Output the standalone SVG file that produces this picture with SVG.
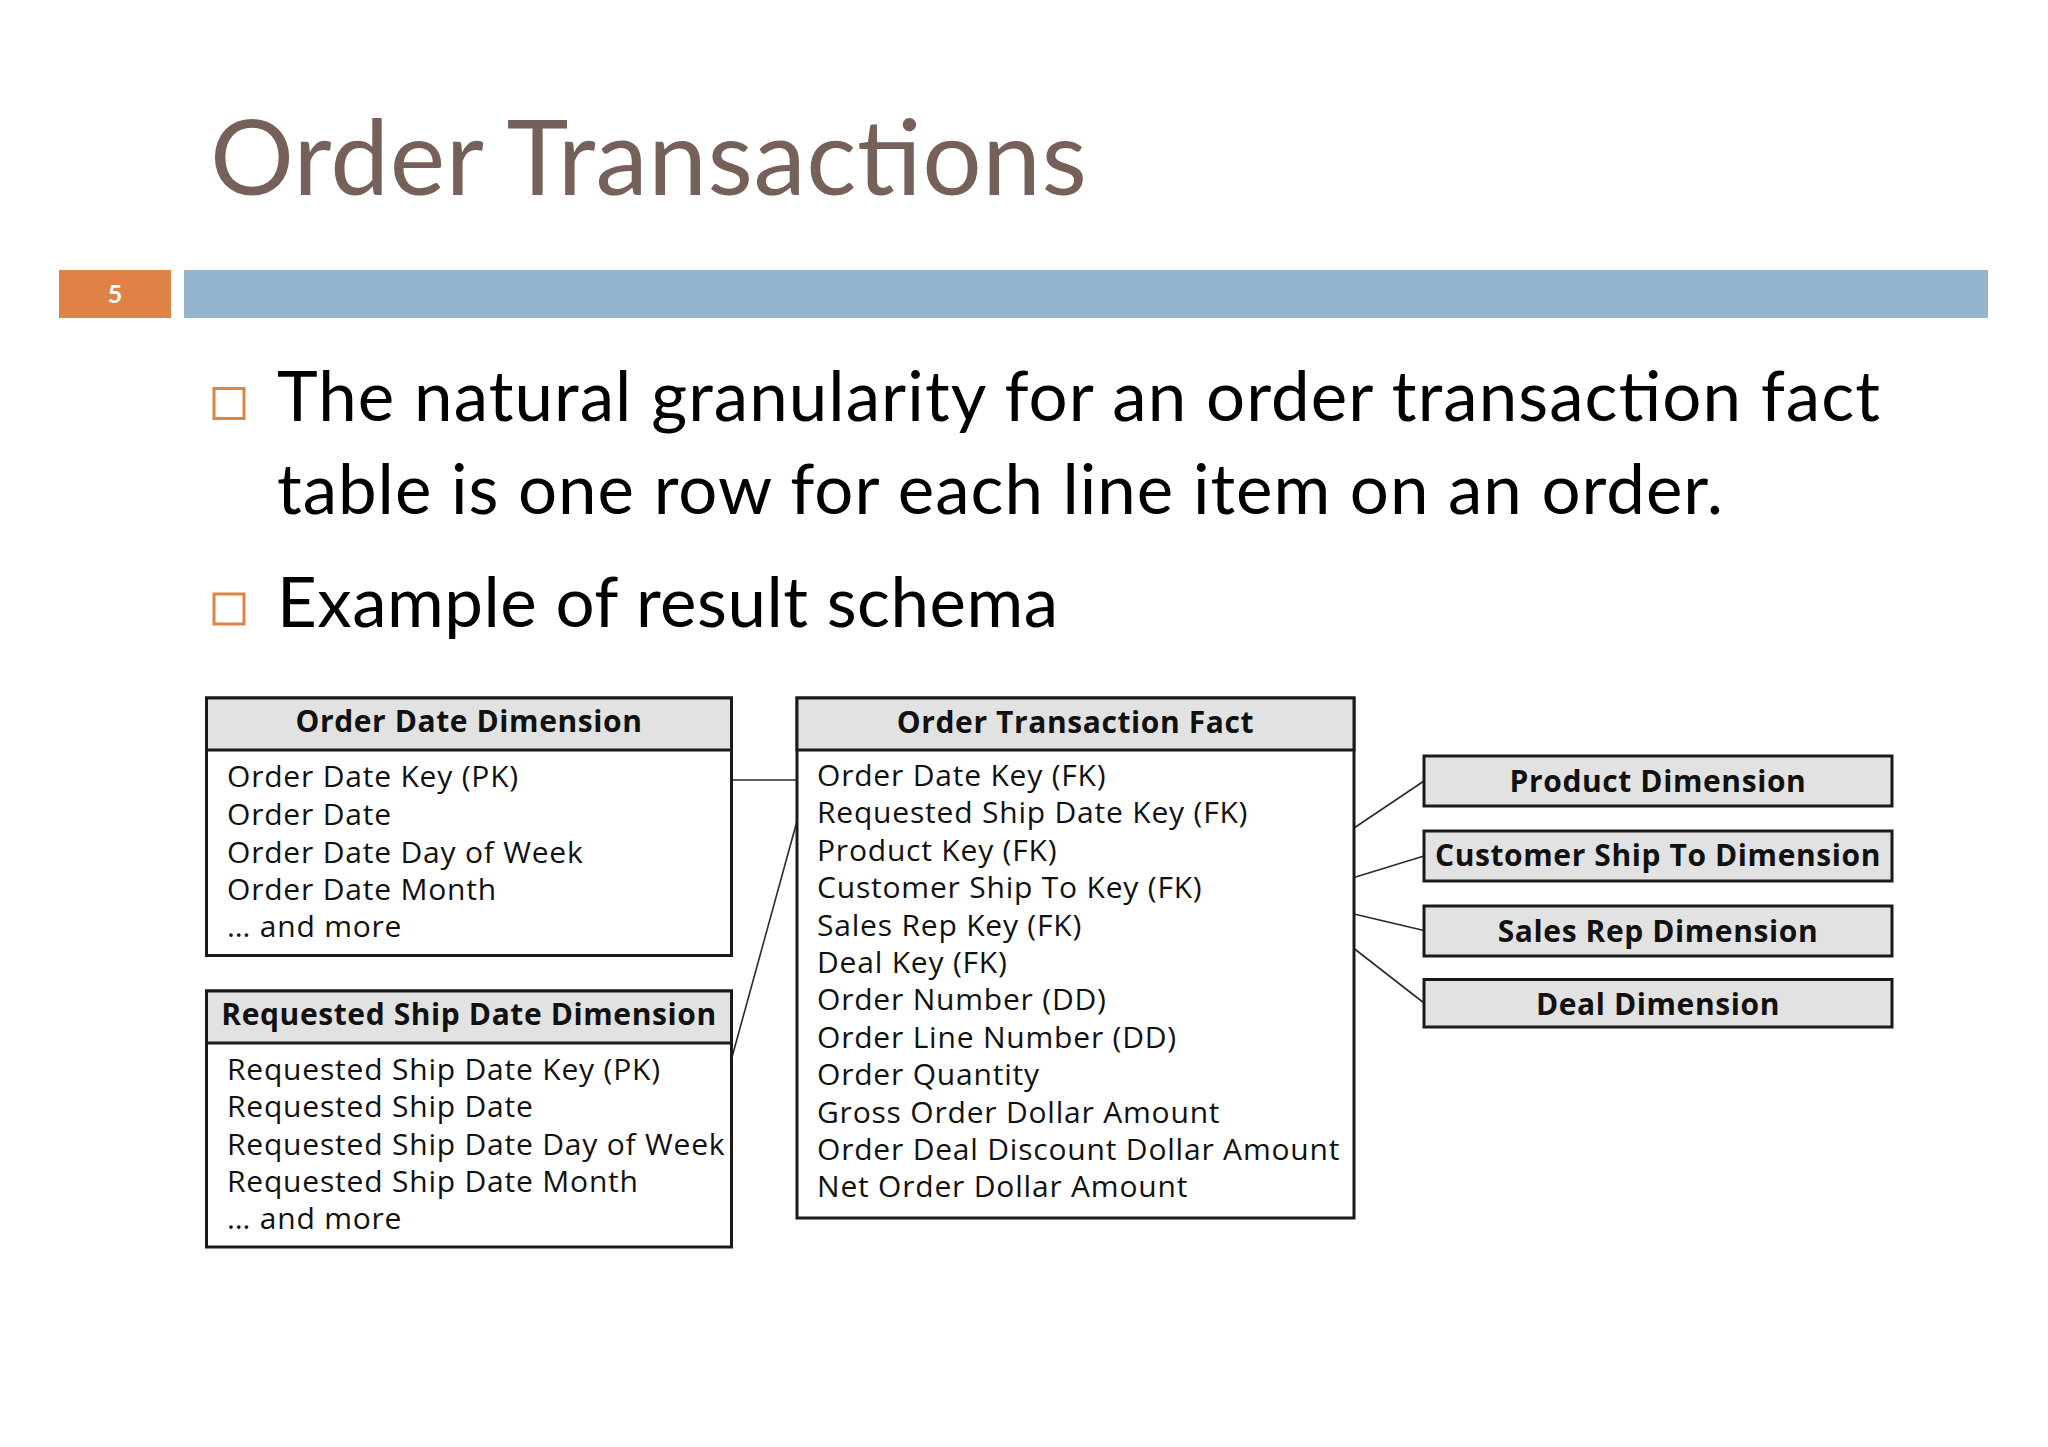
<svg xmlns="http://www.w3.org/2000/svg" width="2048" height="1447" viewBox="0 0 2048 1447">
<style>
.title{font-family:Lato,"Open Sans",sans-serif;font-size:105px;fill:#76605A}
.bul{font-family:Lato,"Open Sans",sans-serif;font-size:69px;fill:#000}
.bsq{fill:none;stroke:#DE8345;stroke-width:3}
.box{fill:#fff;stroke:#1a1a1a;stroke-width:3}
.hdr{fill:#E2E2E2;stroke:#1a1a1a;stroke-width:3}
.ht{font-family:"Open Sans",sans-serif;font-weight:bold;font-size:30px;letter-spacing:0.6px;fill:#111;text-anchor:middle}
.rt{font-family:"Open Sans",sans-serif;font-size:30px;letter-spacing:0.8px;fill:#111}
.con line{stroke:#2a2a2a;stroke-width:1.6}
</style>
<rect width="2048" height="1447" fill="#fff"/>
<g id="header">
<text class="title" x="210" y="195" textLength="877" lengthAdjust="spacing">Order Transactions</text>
<rect x="59" y="270" width="112" height="48" fill="#DE8345"/>
<text x="115" y="303" font-family="Lato,sans-serif" font-weight="bold" font-size="25" fill="#fff" text-anchor="middle">5</text>
<rect x="184" y="270" width="1804" height="48" fill="#94B4CF"/>
</g>
<g id="bullets">
<rect class="bsq" x="214" y="388.5" width="30" height="30"/>
<text class="bul" x="277" y="421" textLength="1603" lengthAdjust="spacing">The natural granularity for an order transaction fact</text>
<text class="bul" x="277" y="514" textLength="1446" lengthAdjust="spacing">table is one row for each line item on an order.</text>
<rect class="bsq" x="214" y="594" width="30" height="30"/>
<text class="bul" x="277" y="627" textLength="781" lengthAdjust="spacing">Example of result schema</text>
</g>
<g id="connectors" class="con">
<line x1="731.5" y1="780" x2="797" y2="780"/>
<line x1="731.5" y1="1059" x2="797" y2="821"/>
<line x1="1354" y1="828" x2="1424" y2="781"/>
<line x1="1354" y1="877.5" x2="1424" y2="856"/>
<line x1="1354" y1="914" x2="1424" y2="930.5"/>
<line x1="1354" y1="948.5" x2="1424" y2="1003"/>
</g>
<g id="order-date-dim">
<rect class="box" x="206.5" y="698" width="525" height="257.5"/>
<rect class="hdr" x="206.5" y="698" width="525" height="52"/>
<text class="ht" x="469" y="732">Order Date Dimension</text>
<text class="rt" x="227" y="787">Order Date Key (PK)</text>
<text class="rt" x="227" y="825">Order Date</text>
<text class="rt" x="227" y="863">Order Date Day of Week</text>
<text class="rt" x="227" y="900">Order Date Month</text>
<text class="rt" x="227" y="937">… and more</text>
</g>
<g id="req-ship-date-dim">
<rect class="box" x="206.5" y="991" width="525" height="256"/>
<rect class="hdr" x="206.5" y="991" width="525" height="52"/>
<text class="ht" x="469" y="1025">Requested Ship Date Dimension</text>
<text class="rt" x="227" y="1080">Requested Ship Date Key (PK)</text>
<text class="rt" x="227" y="1117">Requested Ship Date</text>
<text class="rt" x="227" y="1155">Requested Ship Date Day of Week</text>
<text class="rt" x="227" y="1192">Requested Ship Date Month</text>
<text class="rt" x="227" y="1229">… and more</text>
</g>
<g id="order-transaction-fact">
<rect class="box" x="797" y="698" width="557" height="520"/>
<rect class="hdr" x="797" y="698" width="557" height="52"/>
<text class="ht" x="1075.5" y="733">Order Transaction Fact</text>
<text class="rt" x="817" y="786">Order Date Key (FK)</text>
<text class="rt" x="817" y="823.4">Requested Ship Date Key (FK)</text>
<text class="rt" x="817" y="860.8">Product Key (FK)</text>
<text class="rt" x="817" y="898.2">Customer Ship To Key (FK)</text>
<text class="rt" x="817" y="935.6">Sales Rep Key (FK)</text>
<text class="rt" x="817" y="973">Deal Key (FK)</text>
<text class="rt" x="817" y="1010.4">Order Number (DD)</text>
<text class="rt" x="817" y="1047.8">Order Line Number (DD)</text>
<text class="rt" x="817" y="1085.2">Order Quantity</text>
<text class="rt" x="817" y="1122.6">Gross Order Dollar Amount</text>
<text class="rt" x="817" y="1160">Order Deal Discount Dollar Amount</text>
<text class="rt" x="817" y="1197.4">Net Order Dollar Amount</text>
</g>
<g id="product-dim">
<rect class="hdr" x="1424" y="756" width="468" height="50"/>
<text class="ht" x="1658" y="792">Product Dimension</text>
</g>
<g id="customer-ship-to-dim">
<rect class="hdr" x="1424" y="831" width="468" height="50"/>
<text class="ht" x="1658" y="866">Customer Ship To Dimension</text>
</g>
<g id="sales-rep-dim">
<rect class="hdr" x="1424" y="906" width="468" height="50"/>
<text class="ht" x="1658" y="942">Sales Rep Dimension</text>
</g>
<g id="deal-dim">
<rect class="hdr" x="1424" y="979.5" width="468" height="47.5"/>
<text class="ht" x="1658" y="1015">Deal Dimension</text>
</g>
</svg>
